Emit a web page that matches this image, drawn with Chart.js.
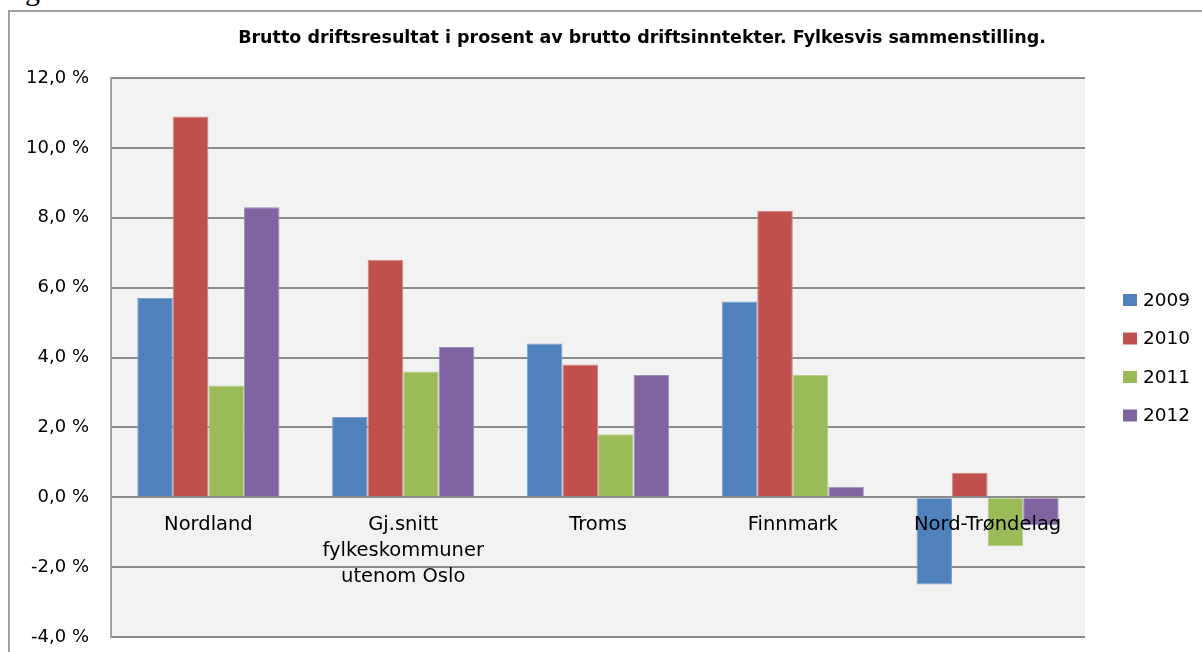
<!DOCTYPE html>
<html>
<head>
<meta charset="utf-8">
<script src="https://cdn.jsdelivr.net/npm/chart.js@4"></script>
<style>
  body { margin: 0; background: #fff; overflow: hidden; }
  #wrap { position: relative; width: 1202px; height: 652px; }
  #fig { position: absolute; left: 0; top: -25px; font: 30px "Liberation Serif", serif; line-height: 30px; }
  #frame { position: absolute; left: 8px; top: 10px; width: 1300px; height: 800px;
           border-left: 2px solid #a0a0a0; border-top: 2px solid #a0a0a0; }
  canvas { position: absolute; left: 0; top: 0; }
</style>
</head>
<body>
<div id="wrap">
  <div id="fig">Figur 4:</div>
  <div id="frame"></div>
  <canvas id="chart" width="1202" height="652"></canvas>
</div>
<script>
const chartTitle = "Brutto driftsresultat i prosent av brutto driftsinntekter. Fylkesvis sammenstilling.";
const categories = [
  ["Nordland"],
  ["Gj.snitt", "fylkeskommuner", "utenom Oslo"],
  ["Troms"],
  ["Finnmark"],
  ["Nord-Trøndelag"]
];
const years = ["2009", "2010", "2011", "2012"];
const values2009 = [5.7, 2.3, 4.4, 5.6, -2.5];
const values2010 = [10.9, 6.8, 3.8, 8.2, 0.7];
const values2011 = [3.2, 3.6, 1.8, 3.5, -1.4];
const values2012 = [8.3, 4.3, 3.5, 0.3, -0.8];
const colors = ["#4f81bd", "#c0504d", "#9bbb59", "#8064a2"];
const edges = ["#7f9fcc", "#d38583", "#b7cf8b", "#a08dbb"];

const FONT = "'DejaVu Sans', sans-serif";

// title, category labels (next to the zero line) and the legend
const extras = {
  id: "extras",
  afterDraw(chart) {
    const { ctx, scales } = chart;
    const x = scales.x, y = scales.y;
    ctx.save();
    ctx.fillStyle = "#000";
    ctx.font = "bold 17.5px " + FONT;
    ctx.textAlign = "center";
    ctx.textBaseline = "middle";
    ctx.fillText(chartTitle, 642, 38);

    ctx.font = "19.5px " + FONT;
    const y0 = y.getPixelForValue(0);
    categories.forEach((lines, i) => {
      const cx = x.getPixelForValue(i);
      lines.forEach((t, j) => ctx.fillText(t, cx, y0 + 28 + j * 26));
    });

    ctx.font = "18.5px " + FONT;
    ctx.textAlign = "left";
    years.forEach((yr, i) => {
      const ly = 300 + i * 38.5;
      ctx.fillStyle = colors[i];
      ctx.fillRect(1123, ly - 6, 14, 12);
      ctx.fillStyle = "#000";
      ctx.fillText(yr, 1143, ly + 1);
    });
    ctx.restore();
  }
};

const plotBg = {
  id: "plotBg",
  beforeDraw(chart) {
    const a = chart.chartArea;
    chart.ctx.save();
    chart.ctx.fillStyle = "#f2f2f2";
    chart.ctx.fillRect(a.left, a.top, a.right - a.left, a.bottom - a.top);
    chart.ctx.restore();
  }
};

const seriesValues = [values2009, values2010, values2011, values2012];

new Chart(document.getElementById("chart"), {
  type: "bar",
  data: {
    labels: categories.map(c => c.join(" ")),
    datasets: years.map((yr, i) => ({
      label: yr,
      data: seriesValues[i],
      backgroundColor: colors[i],
      borderColor: edges[i],
      borderWidth: 1,
      barPercentage: 1,
      categoryPercentage: 0.73
    }))
  },
  options: {
    responsive: false,
    animation: false,
    layout: { padding: { left: 0, top: 78, right: 117, bottom: 15 } },
    plugins: {
      legend: { display: false },
      title: { display: false },
      tooltip: { enabled: false }
    },
    scales: {
      x: {
        display: false
      },
      y: {
        min: -4,
        max: 12,
        afterFit(s) { s.width = 111; s.paddingTop = 0; s.paddingBottom = 0; },
        ticks: {
          stepSize: 2,
          padding: 22,
          color: "#000",
          font: { family: FONT, size: 18 },
          callback: v => v.toFixed(1).replace(".", ",") + " %"
        },
        grid: { color: "#8c8c8c", lineWidth: 2, drawTicks: false },
        border: { color: "#a0a0a0", width: 2 }
      }
    }
  },
  plugins: [plotBg, extras]
});
</script>
</body>
</html>
